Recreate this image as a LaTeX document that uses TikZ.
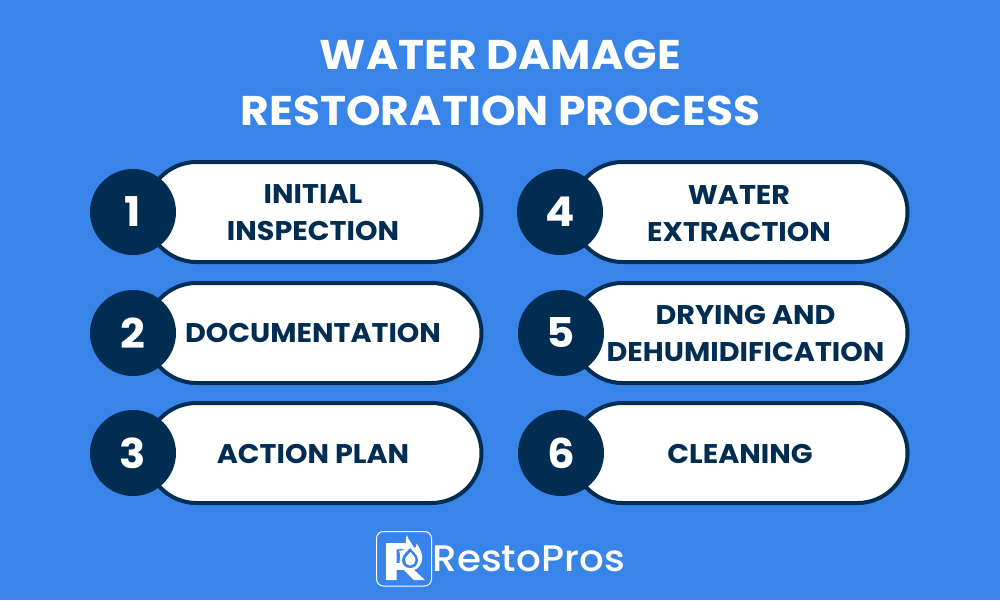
\documentclass[tikz,border=0pt]{standalone}
\usepackage{fontspec}
\usetikzlibrary{shapes.misc}
\setmainfont[FakeStretch=1.06]{Poppins}
\newfontfamily\brandfont[FakeStretch=1.05]{Poppins Medium}
\definecolor{bgblue}{HTML}{3884E8}
\definecolor{navy}{HTML}{022D52}
\tikzset{
  pill/.style={rounded rectangle, draw=navy, line width=4pt, fill=white, minimum width=335pt, minimum height=100pt, inner sep=0pt},
  badge/.style={circle, fill=navy, minimum size=86pt, inner sep=0pt, text=white, font=\fontsize{41}{41}\selectfont\bfseries},
  lbl/.style={text=navy, align=center, font=\fontsize{27}{37}\selectfont\bfseries, inner sep=0pt},
  ttl/.style={text=white, align=center, font=\fontsize{41.5}{56}\selectfont\bfseries, inner sep=0pt},
}
\begin{document}
\begin{tikzpicture}[x=1pt,y=-1pt]
\useasboundingbox (0,0) rectangle (1000,600);
\fill[bgblue] (0,0) rectangle (1000,600);
\node[ttl] (title) at (500.5,82.5) {WATER DAMAGE\\RESTORATION PROCESS};
\node[pill] (p1) at (314,212) {};
\node[pill] (p2) at (314,333) {};
\node[pill] (p3) at (314,453) {};
\node[pill] (p4) at (740,212) {};
\node[pill] (p5) at (740,333) {};
\node[pill] (p6) at (740,453) {};
\node[badge] (b1) at (133,212) {1};
\node[badge] (b2) at (133,333) {2};
\node[badge] (b3) at (133,453) {3};
\node[badge] (b4) at (560,212) {4};
\node[badge] (b5) at (561,333) {5};
\node[badge] (b6) at (561,453) {6};
\node[lbl] (t1) at (313,213) {INITIAL\\INSPECTION};
\node[lbl] (t2) at (313,333) {DOCUMENTATION};
\node[lbl] (t3) at (313,454) {ACTION PLAN};
\node[lbl] (t4) at (739,214) {WATER\\EXTRACTION};
\node[lbl] (t5) at (745.5,334) {DRYING AND\\DEHUMIDIFICATION};
\node[lbl] (t6) at (740,454) {CLEANING};
% logo
\draw[white, line width=1pt, rounded corners=7pt] (376.5,531.5) rectangle (431.5,586);
\fill[white] (386,543) -- (406,543) -- (406,549) -- (396.5,549) -- (396.5,580) -- (386,580) -- cycle;
\fill[white] (396,563) -- (408,563) -- (408,569.5) -- (396,569.5) -- cycle;
\fill[white] (403,569) -- (413,569) -- (425,580) -- (414,580) -- cycle;
\fill[white] (399,550.5) .. controls (403,551) and (405,550) .. (405.5,547) .. controls (406.5,543) and (405,539) .. (407,535) .. controls (408,540) and (412,543) .. (414,548) .. controls (416,548) and (417,546) .. (416.5,543.5) .. controls (420,548) and (424,555) .. (421.5,562) .. controls (419.5,568) and (415,571) .. (409,571) .. controls (402,571) and (398,564) .. (400,558) .. controls (400.5,555) and (400,553) .. (399,550.5) -- cycle;
\fill[bgblue] (410,548) .. controls (413,552) and (418,555) .. (418,560) .. controls (418,565) and (414.5,568) .. (410,568) .. controls (405.5,568) and (402,565) .. (402,560) .. controls (402,555) and (407,552) .. (410,548) -- cycle;
\fill[white] (410.5,552) .. controls (412.5,555) and (415.5,557) .. (415.5,560) .. controls (415.5,563) and (413,565.5) .. (410,565.5) .. controls (407,565.5) and (405,563) .. (405,560) .. controls (405,557) and (408.5,555) .. (410.5,552) -- cycle;
\node[text=white, font=\brandfont\fontsize{37}{37}\selectfont, inner sep=0pt, anchor=west] (brand) at (432.5,559) {RestoPros};
\end{tikzpicture}
\end{document}
